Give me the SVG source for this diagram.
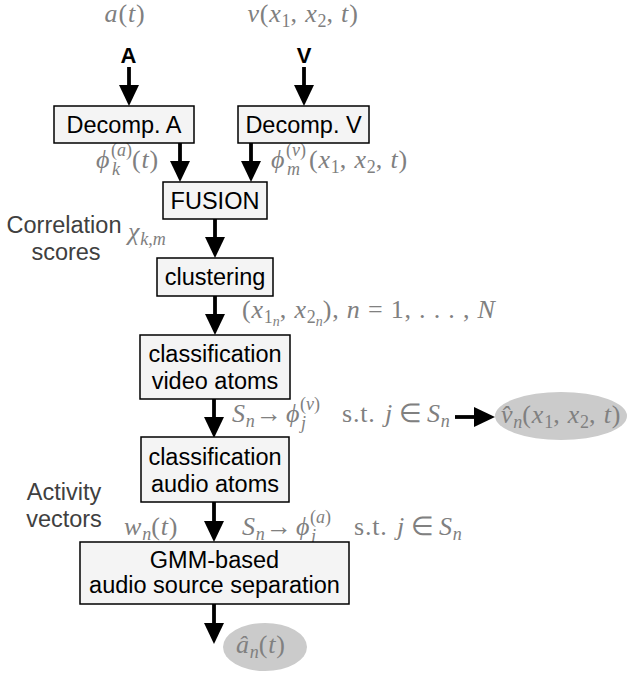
<svg xmlns="http://www.w3.org/2000/svg" width="627" height="673" viewBox="0 0 627 673">
<style>
.box{fill:#f4f4f4;stroke:#000;stroke-width:1.5}
.bt{font-family:"Liberation Sans",Arial,sans-serif;font-size:23.5px;fill:#000;text-anchor:middle}
.lb{font-family:"Liberation Sans",Arial,sans-serif;font-size:22px;font-weight:bold;fill:#000;text-anchor:middle}
.side{font-family:"Liberation Sans",Arial,sans-serif;font-size:23.5px;fill:#404040;text-anchor:middle}
.m{font-family:"Liberation Serif","Times New Roman",serif;font-size:26px;letter-spacing:0.8px;fill:#808080}
.i{font-style:italic}
.s{font-size:18px;letter-spacing:0}
.ss{font-size:14px;letter-spacing:0}
.arr{fill:none;stroke:#000;stroke-width:3.8;marker-end:url(#ah)}
.ell{fill:#cbcbcb;stroke:none}
</style>
<defs>
<marker id="ah" markerUnits="userSpaceOnUse" markerWidth="21" markerHeight="20" refX="0" refY="9.5" orient="auto" viewBox="0 0 20 19">
<path d="M0,0 L20,9.5 L0,19 z" fill="#000"/>
</marker>
</defs>

<g id="labels">
<text class="m" x="125" y="22" text-anchor="middle"><tspan class="i">a</tspan>(<tspan class="i">t</tspan>)</text>
<text class="m" x="303" y="22" text-anchor="middle"><tspan class="i">v</tspan>(<tspan class="i">x</tspan><tspan class="s" dy="5">1</tspan><tspan dy="-5">, </tspan><tspan class="i">x</tspan><tspan class="s" dy="5">2</tspan><tspan dy="-5">, </tspan><tspan class="i">t</tspan>)</text>
<text class="lb" x="128.5" y="63">A</text>
<text class="lb" x="304" y="63">V</text>
<text class="m" y="168"><tspan x="96" class="i">ϕ</tspan><tspan x="111" dy="-12" class="s">(<tspan class="i">a</tspan>)</tspan><tspan x="112" dy="19" class="s i">k</tspan><tspan x="132" dy="-7">(<tspan class="i">t</tspan>)</tspan></text>
<text class="m" y="168"><tspan x="271" class="i">ϕ</tspan><tspan x="286" dy="-12" class="s">(<tspan class="i">v</tspan>)</tspan><tspan x="287" dy="19" class="s i">m</tspan><tspan x="309" dy="-7">(</tspan><tspan class="i">x</tspan><tspan class="s" dy="5">1</tspan><tspan dy="-5">, </tspan><tspan class="i">x</tspan><tspan class="s" dy="5">2</tspan><tspan dy="-5">, </tspan><tspan class="i">t</tspan>)</text>
<text class="side" x="64" y="233">Correlation</text>
<text class="side" x="66" y="260">scores</text>
<text class="m" y="240"><tspan x="128" class="i">χ</tspan><tspan dy="5" class="s"><tspan class="i">k</tspan>,<tspan class="i">m</tspan></tspan></text>
<text class="m" x="242" y="318">(<tspan class="i">x</tspan><tspan class="s" dy="5">1</tspan><tspan class="ss i" dy="3">n</tspan><tspan dy="-8">, </tspan><tspan class="i">x</tspan><tspan class="s" dy="5">2</tspan><tspan class="ss i" dy="3">n</tspan><tspan dy="-8">), </tspan><tspan class="i">n</tspan> = 1, . . . , <tspan class="i">N</tspan></text>
<text class="m" y="422"><tspan x="232" class="i">S</tspan><tspan class="s i" dy="5">n</tspan><tspan x="256" dy="-5">→</tspan><tspan x="286" class="i">ϕ</tspan><tspan x="300" dy="-12" class="s">(<tspan class="i">v</tspan>)</tspan><tspan x="301" dy="19" class="s i">j</tspan><tspan x="342" dy="-7">s.t.</tspan><tspan x="385" class="i">j</tspan><tspan x="399">∈</tspan><tspan x="427" class="i">S</tspan><tspan class="s i" dy="5">n</tspan></text>
<text class="side" x="64" y="500">Activity</text>
<text class="side" x="64" y="527">vectors</text>
<text class="m" y="535"><tspan x="124" class="i">w</tspan><tspan class="s i" dy="5">n</tspan><tspan dy="-5">(</tspan><tspan class="i">t</tspan>)</text>
<text class="m" y="535"><tspan x="242" class="i">S</tspan><tspan class="s i" dy="5">n</tspan><tspan x="266" dy="-5">→</tspan><tspan x="296" class="i">ϕ</tspan><tspan x="310" dy="-12" class="s">(<tspan class="i">a</tspan>)</tspan><tspan x="311" dy="19" class="s i">j</tspan><tspan x="354" dy="-7">s.t.</tspan><tspan x="397" class="i">j</tspan><tspan x="411">∈</tspan><tspan x="439" class="i">S</tspan><tspan class="s i" dy="5">n</tspan></text>
</g>

<g id="connectors">
<line class="arr" x1="129" y1="67" x2="129" y2="85"/>
<line class="arr" x1="304" y1="67" x2="304" y2="85"/>
<line class="arr" x1="180" y1="143" x2="180" y2="161"/>
<line class="arr" x1="251" y1="143" x2="251" y2="161"/>
<line class="arr" x1="215" y1="219" x2="215" y2="237"/>
<line class="arr" x1="215" y1="296" x2="215" y2="314"/>
<line class="arr" x1="214" y1="399" x2="214" y2="417"/>
<line class="arr" x1="214" y1="502" x2="214" y2="521"/>
<line class="arr" x1="214" y1="604" x2="214" y2="623"/>
<line class="arr" x1="455" y1="417" x2="474" y2="417"/>
</g>

<g id="decompA">
<rect class="box" x="54" y="106" width="140" height="37"/>
<text class="bt" x="124" y="133">Decomp. A</text>
</g>
<g id="decompV">
<rect class="box" x="238" y="106" width="131" height="37"/>
<text class="bt" x="303.5" y="133">Decomp. V</text>
</g>
<g id="fusion">
<rect class="box" x="163" y="182" width="104" height="37"/>
<text class="bt" x="215" y="209">FUSION</text>
</g>
<g id="clustering">
<rect class="box" x="157" y="258" width="116" height="38"/>
<text class="bt" x="215" y="285">clustering</text>
</g>
<g id="classVideo">
<rect class="box" x="140" y="335" width="150" height="64"/>
<text class="bt" x="215" y="362">classification</text>
<text class="bt" x="215" y="389">video atoms</text>
</g>
<g id="classAudio">
<rect class="box" x="141" y="437" width="148" height="65"/>
<text class="bt" x="215" y="465">classification</text>
<text class="bt" x="215" y="492">audio atoms</text>
</g>
<g id="gmm">
<rect class="box" x="80" y="542" width="269" height="62"/>
<text class="bt" x="214.5" y="568">GMM-based</text>
<text class="bt" x="214.5" y="593">audio source separation</text>
</g>
<g id="vhat">
<ellipse class="ell" cx="561" cy="416" rx="66" ry="24"/>
<text class="m" y="423"><tspan x="501" class="i">v̂</tspan><tspan class="s i" dy="5">n</tspan><tspan dy="-5">(</tspan><tspan class="i">x</tspan><tspan class="s" dy="5">1</tspan><tspan dy="-5">, </tspan><tspan class="i">x</tspan><tspan class="s" dy="5">2</tspan><tspan dy="-5">, </tspan><tspan class="i">t</tspan>)</text>
</g>
<g id="ahat">
<ellipse class="ell" cx="265" cy="647" rx="42" ry="24"/>
<text class="m" y="653"><tspan x="236" class="i">â</tspan><tspan class="s i" dy="5">n</tspan><tspan dy="-5">(</tspan><tspan class="i">t</tspan>)</text>
</g>
</svg>
